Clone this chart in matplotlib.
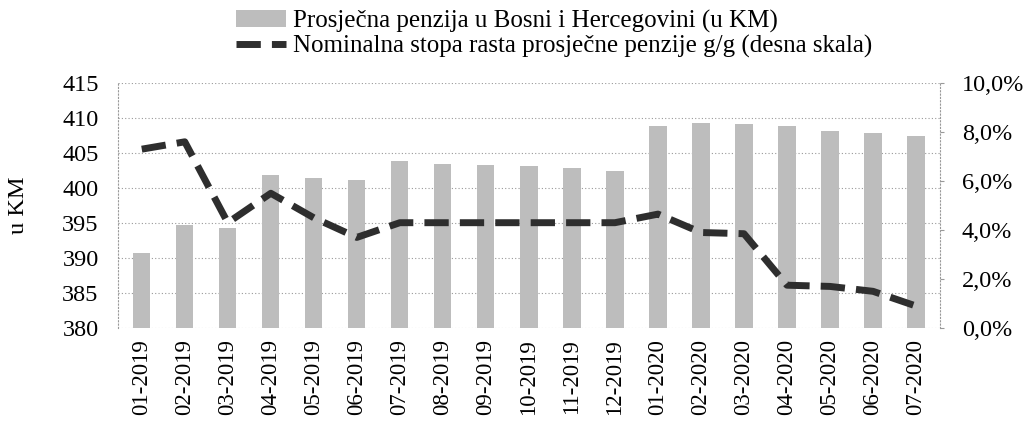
import matplotlib
matplotlib.use("Agg")
import matplotlib.pyplot as plt
from matplotlib.ticker import FuncFormatter, MultipleLocator

months = ["01-2019", "02-2019", "03-2019", "04-2019", "05-2019", "06-2019",
          "07-2019", "08-2019", "09-2019", "10-2019", "11-2019", "12-2019",
          "01-2020", "02-2020", "03-2020", "04-2020", "05-2020", "06-2020",
          "07-2020"]
pension = [390.7, 394.7, 394.3, 401.9, 401.4, 401.2,
           403.8, 403.5, 403.3, 403.1, 402.8, 402.4,
           408.8, 409.3, 409.1, 408.8, 408.2, 407.9, 407.4]
growth = [7.3, 7.6, 4.3, 5.5, 4.5, 3.7,
          4.3, 4.3, 4.3, 4.3, 4.3, 4.3,
          4.65, 3.9, 3.85, 1.75, 1.7, 1.5, 0.9]

label_bar = "Prosječna penzija u Bosni i Hercegovini (u KM)"
label_line = "Nominalna stopa rasta prosječne penzije g/g (desna skala)"

plt.rcParams['font.family'] = ['Liberation Serif', 'DejaVu Serif']

fig = plt.figure(figsize=(10.27, 4.30), dpi=100)
ax = fig.add_axes([0.115, 0.237, 0.800, 0.570])
ax2 = ax.twinx()

x = list(range(len(months)))
bars = ax.bar(x, pension, width=0.4, color="#bdbdbd", zorder=2, label=label_bar)
ax.set_ylim(380, 415)
ax.yaxis.set_major_locator(MultipleLocator(5))
ax.set_xlim(-0.55, len(months) - 0.45)
ax.set_xticks(x)
ax.set_xticklabels(months, rotation=90, fontsize=16.5)
ax.tick_params(axis='y', labelsize=17.5, length=0, pad=14)
ax.tick_params(axis='x', length=0, pad=8)
ax.grid(axis='y', color="#999999", linestyle=(0, (1, 2)), linewidth=0.8, zorder=0)
ax.set_ylabel("u KM", fontsize=17.5, labelpad=24)

for a in (ax, ax2):
    for s in a.spines.values():
        s.set_visible(False)
for side in ('left', 'right'):
    ax2.spines[side].set_visible(True)
    ax2.spines[side].set_color("#999999")
    ax2.spines[side].set_linestyle((0, (1, 2)))

line, = ax2.plot(x, growth, color="#2e2e2e", linewidth=5, dashes=(3.5, 1.6),
                 label=label_line, zorder=3)
ax2.set_ylim(0, 10)
ax2.yaxis.set_major_locator(MultipleLocator(2))
ax2.yaxis.set_major_formatter(FuncFormatter(lambda v, p: f"{v:.1f}%".replace(".", ",")))
ax2.tick_params(axis='y', labelsize=17.5, length=3, color="#999999", pad=13)

fig.legend([bars, line], [label_bar, label_line], loc="upper left",
           bbox_to_anchor=(0.213, 1.018), ncol=1, frameon=False, fontsize=18,
           handlelength=2.0, handletextpad=0.25, labelspacing=0.08,
           borderpad=0.2)

fig.savefig("out.png", dpi=100)
